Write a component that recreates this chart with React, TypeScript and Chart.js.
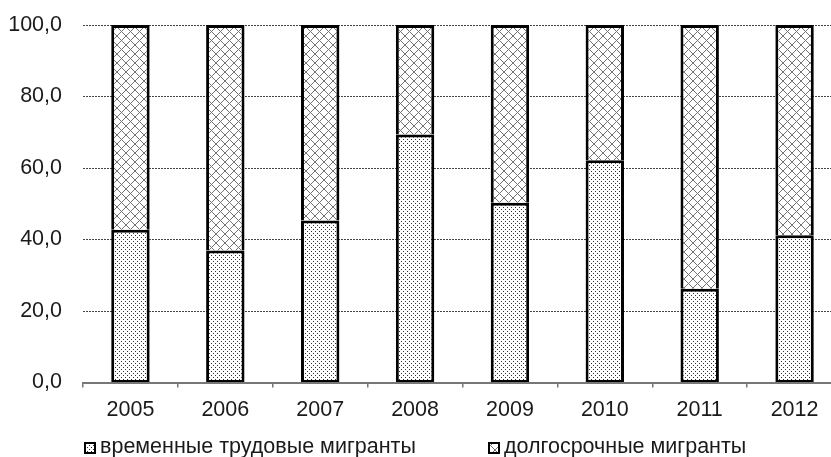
import React, { useEffect, useRef } from 'react';
import { Chart, registerables } from 'chart.js';

Chart.register(...registerables);

const years = ['2005', '2006', '2007', '2008', '2009', '2010', '2011', '2012'];
const temporaryWorkers = [42.7, 36.9, 45.3, 69.4, 50.3, 62.2, 26.2, 41.2];
const longTermMigrants = [57.3, 63.1, 54.7, 30.6, 49.7, 37.8, 73.8, 58.8];
const seriesLabels = ['временные трудовые мигранты', 'долгосрочные мигранты'];
const yMin = 0;
const yMax = 100;
const yStep = 20;

const FONT = '"Liberation Sans", Arial, sans-serif';

function makeDots(): CanvasPattern | string {
  const c = document.createElement('canvas');
  c.width = 4;
  c.height = 4;
  const g = c.getContext('2d');
  if (!g) return '#ddd';
  g.fillStyle = '#fff';
  g.fillRect(0, 0, 4, 4);
  g.fillStyle = '#333';
  g.fillRect(1, 1, 1, 1);
  g.fillRect(3, 3, 1, 1);
  return g.createPattern(c, 'repeat') || '#ddd';
}

function makeCross(): CanvasPattern | string {
  const s = 9;
  const c = document.createElement('canvas');
  c.width = s;
  c.height = s;
  const g = c.getContext('2d');
  if (!g) return '#bbb';
  g.fillStyle = '#fff';
  g.fillRect(0, 0, s, s);
  g.fillStyle = '#737373';
  for (let i = 0; i < s; i++) {
    g.fillRect(i, i, 1, 1);
    g.fillRect(s - 1 - i, i, 1, 1);
  }
  return g.createPattern(c, 'repeat') || '#bbb';
}

const legendPlugin = {
  id: 'customLegend',
  afterDraw(chart: any) {
    const ctx = chart.ctx as CanvasRenderingContext2D;
    const xs = [84, 488];
    const boxY = 442;
    const box = 12;
    chart.data.datasets.forEach((ds: any, i: number) => {
      const x = xs[i];
      ctx.save();
      ctx.fillStyle = ds.backgroundColor;
      ctx.fillRect(x, boxY, box, box);
      ctx.strokeStyle = '#000';
      ctx.lineWidth = 2;
      ctx.strokeRect(x + 1, boxY + 1, box - 2, box - 2);
      ctx.fillStyle = '#1a1a1a';
      ctx.font = `21.5px ${FONT}`;
      ctx.textBaseline = 'alphabetic';
      ctx.textAlign = 'left';
      ctx.fillText(ds.label, x + box + 4, 453);
      ctx.restore();
    });
  },
};

export default function App() {
  const ref = useRef<HTMLCanvasElement | null>(null);

  useEffect(() => {
    if (!ref.current) return;
    const dots = makeDots();
    const cross = makeCross();
    const chart = new Chart(ref.current, {
      type: 'bar',
      data: {
        labels: years,
        datasets: [
          {
            label: seriesLabels[0],
            data: temporaryWorkers,
            backgroundColor: dots as any,
            borderColor: '#000',
            borderWidth: { top: 3, left: 3, right: 3, bottom: 2 } as any,
            borderSkipped: false,
            barPercentage: 0.405,
            categoryPercentage: 1,
          },
          {
            label: seriesLabels[1],
            data: longTermMigrants,
            backgroundColor: cross as any,
            borderColor: '#000',
            borderWidth: { top: 3, left: 3, right: 3, bottom: 0 } as any,
            borderSkipped: false,
            barPercentage: 0.405,
            categoryPercentage: 1,
          },
        ],
      },
      options: {
        animation: false,
        responsive: false,
        devicePixelRatio: 1,
        layout: { autoPadding: false, padding: { left: 0, top: 25, right: 18, bottom: 29.5 } },
        plugins: {
          legend: { display: false },
          tooltip: { enabled: false },
        },
        scales: {
          x: {
            stacked: true,
            offset: true,
            afterFit: (s: any) => {
              s.height = 45;
              s.paddingLeft = 0;
              s.paddingRight = 0;
            },
            grid: {
              offset: true,
              drawOnChartArea: false,
              drawTicks: true,
              tickLength: 5,
              color: '#777',
              lineWidth: 1.5,
            },
            border: { display: true, color: '#777', width: 2 },
            ticks: {
              color: '#1a1a1a',
              font: { family: FONT, size: 21.5 },
              padding: 10,
              maxRotation: 0,
              autoSkip: false,
            },
          },
          y: {
            stacked: true,
            min: yMin,
            max: yMax,
            afterFit: (s: any) => {
              s.width = 83;
              s.paddingTop = 0;
              s.paddingBottom = 0;
            },
            grid: {
              drawTicks: false,
              color: (c: any) => (c.tick && c.tick.value === 0 ? 'rgba(0,0,0,0)' : '#444'),
              lineWidth: 1,
            },
            border: { display: false, dash: [2, 1] },
            ticks: {
              stepSize: yStep,
              color: '#1a1a1a',
              font: { family: FONT, size: 21.5 },
              padding: 21,
              callback: (v: any) => Number(v).toFixed(1).replace('.', ','),
            },
          },
        },
      },
      plugins: [legendPlugin],
    });
    return () => chart.destroy();
  }, []);

  return (
    <div style={{ position: 'absolute', left: 0, top: 0, width: 831, height: 457, overflow: 'hidden', background: '#fff' }}>
      <canvas ref={ref} width={860} height={457} style={{ width: 860, height: 457, display: 'block' }} />
    </div>
  );
}
